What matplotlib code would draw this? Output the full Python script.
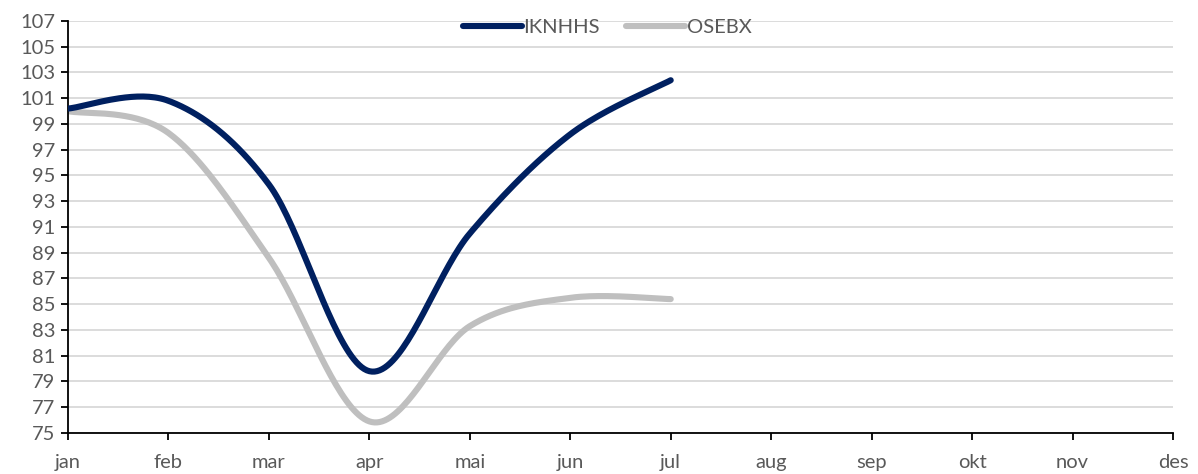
import numpy as np
import matplotlib.pyplot as plt

months = ["jan", "feb", "mar", "apr", "mai", "jun", "jul", "aug", "sep", "okt", "nov", "des"]
iknhhs = [100.2, 100.8, 94.3, 79.8, 90.5, 98.2, 102.4]
osebx = [100.0, 98.3, 88.6, 75.9, 83.3, 85.5, 85.4]


def smooth(xs, ys, n=40):
    # catmull-rom style smoothing, roughly what excel does for "smoothed line"
    pts = np.column_stack([xs, ys]).astype(float)
    p = np.vstack([pts[0], pts, pts[-1]])
    out = []
    for i in range(1, len(p) - 2):
        p0, p1, p2, p3 = p[i - 1], p[i], p[i + 1], p[i + 2]
        c1 = p1 + (p2 - p0) / 6
        c2 = p2 - (p3 - p1) / 6
        t = np.linspace(0, 1, n)[:, None]
        seg = (1 - t) ** 3 * p1 + 3 * (1 - t) ** 2 * t * c1 + 3 * (1 - t) * t ** 2 * c2 + t ** 3 * p2
        out.append(seg)
    out = np.vstack(out)
    return out[:, 0], out[:, 1]


plt.rcParams['font.family'] = ['Lato', 'DejaVu Sans']

fig = plt.figure(figsize=(11.98, 4.74), dpi=100)
ax = fig.add_axes([0.0568, 0.0865, 0.9223, 0.8692])

x = np.arange(len(iknhhs))
sx, sy = smooth(x, iknhhs)
ax.plot(sx, sy, color="#002060", lw=4.4, solid_capstyle="round", label="IKNHHS", zorder=3)
sx, sy = smooth(x, osebx)
ax.plot(sx, sy, color="#bfbfbf", lw=4.4, solid_capstyle="round", label="OSEBX", zorder=2)

ax.set_xlim(0, 11)
ax.set_ylim(75, 107)
ax.set_yticks(np.arange(75, 108, 2))
ax.set_xticks(np.arange(12))
ax.set_xticklabels(months)
ax.grid(axis="y", color="#d9d9d9", lw=1.3)
ax.set_axisbelow(True)

for s in ["top", "right"]:
    ax.spines[s].set_visible(False)
ax.spines["left"].set_linewidth(1.3)
ax.spines["bottom"].set_linewidth(1.3)
ax.tick_params(axis="both", colors="#000000", labelcolor="#595959", labelsize=14.5, length=5, width=1.3)
ax.tick_params(axis="x", pad=10)
ax.tick_params(axis="y", pad=4)

leg = ax.legend(loc="upper center", bbox_to_anchor=(0.488, 1.05), ncol=2, frameon=False,
                fontsize=14.5, handlelength=2.9, handletextpad=0.1, columnspacing=1.3)
for t in leg.get_texts():
    t.set_color("#595959")

fig.savefig("out.png", dpi=100)
